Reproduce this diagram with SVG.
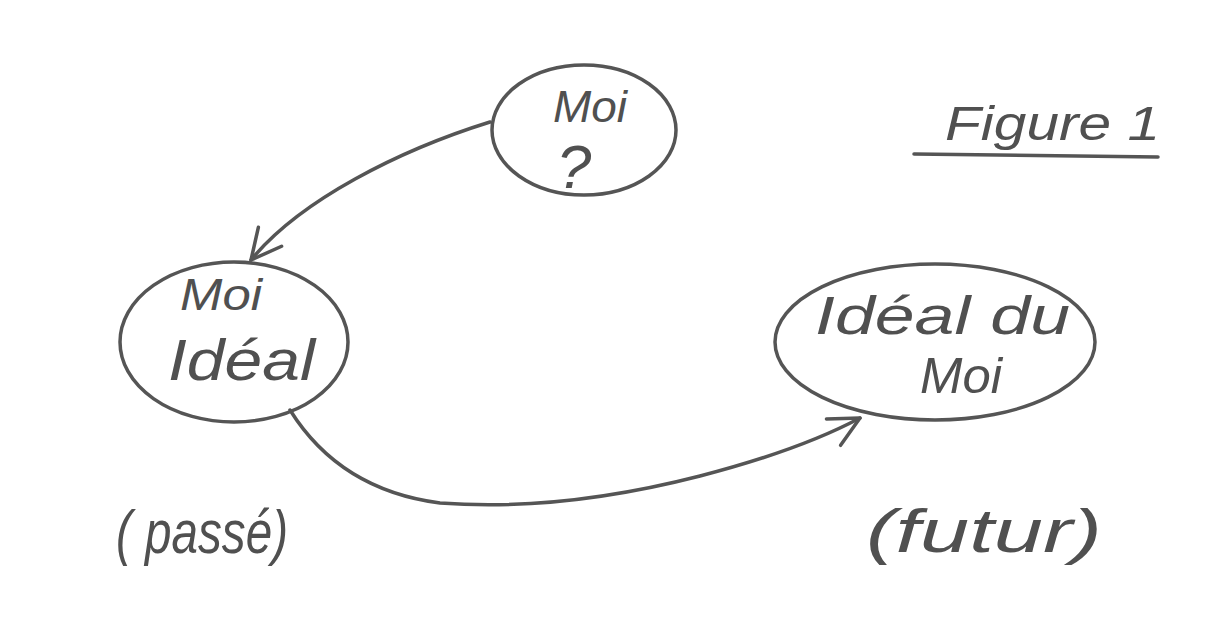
<svg xmlns="http://www.w3.org/2000/svg" width="1216" height="625" viewBox="0 0 1216 625">
<style>
.shape{fill:none;stroke:#555;stroke-width:3.5;stroke-linecap:round;stroke-linejoin:round}
.hand{font-family:"Liberation Sans","DejaVu Sans",sans-serif;font-style:italic;fill:#505050}
</style>
<defs>
<marker id="arr" markerUnits="userSpaceOnUse" markerWidth="50" markerHeight="50" refX="0" refY="0" viewBox="-40 -25 50 50" orient="auto">
<path d="M-30,-15 L0,0 L-30,15" fill="none" stroke="#555" stroke-width="3.5" stroke-linecap="round" stroke-linejoin="round"/>
</marker>
</defs>
<rect width="1216" height="625" fill="#fff"/>
<g id="connectors">
<path class="shape" d="M490,122 C 400,150 300,200 251,260" marker-end="url(#arr)"/>
<path class="shape" d="M290,410 Q 340,490 440,503 Q 560,512 700,476 Q 800,450 860,418" marker-end="url(#arr)"/>
</g>
<g id="node-moi">
<ellipse class="shape" cx="584" cy="130" rx="92" ry="65"/>
<text class="hand" x="553" y="122" font-size="44" textLength="74" lengthAdjust="spacingAndGlyphs">Moi</text>
<text class="hand" x="574" y="188" font-size="62" text-anchor="middle">?</text>
</g>
<g id="node-moi-ideal">
<ellipse class="shape" cx="234" cy="342" rx="114" ry="80"/>
<text class="hand" x="180" y="310" font-size="44" textLength="82" lengthAdjust="spacingAndGlyphs">Moi</text>
<text class="hand" x="168" y="380" font-size="58" textLength="147" lengthAdjust="spacingAndGlyphs">Idéal</text>
</g>
<g id="node-ideal-du-moi">
<ellipse class="shape" cx="935" cy="342" rx="160" ry="78"/>
<text class="hand" x="815" y="334" font-size="54" textLength="255" lengthAdjust="spacingAndGlyphs">Idéal du</text>
<text class="hand" x="920" y="393" font-size="50" textLength="82" lengthAdjust="spacingAndGlyphs">Moi</text>
</g>
<g id="title">
<text class="hand" x="945" y="140" font-size="48" textLength="215" lengthAdjust="spacingAndGlyphs">Figure 1</text>
<line class="shape" x1="914" y1="154" x2="1158" y2="157"/>
</g>
<g id="labels">
<text class="hand" x="116" y="553" font-size="62" textLength="172" lengthAdjust="spacingAndGlyphs">( passé)</text>
<text class="hand" x="866" y="552" font-size="62" textLength="236" lengthAdjust="spacingAndGlyphs">(futur)</text>
</g>
</svg>
